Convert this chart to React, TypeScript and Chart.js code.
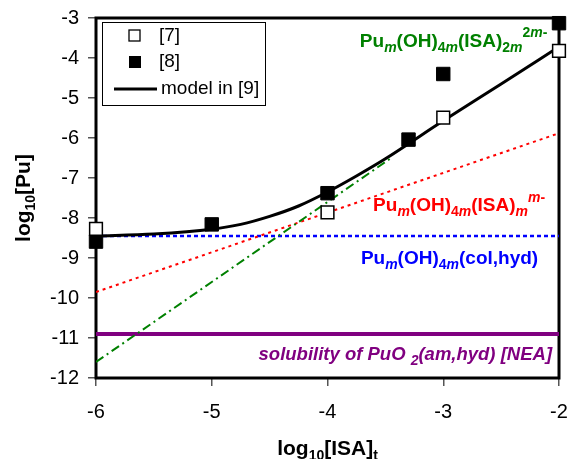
import React, { useEffect, useRef } from 'react';
import { Chart, registerables } from 'chart.js';
Chart.register(...registerables);

const FONT = '"Liberation Sans", Arial, Helvetica, sans-serif';

// ---- data ----
const ref7X = [-6, -4, -3, -2];
const ref7Y = [-8.27, -7.86, -5.49, -3.82];
const ref8X = [-6, -5, -4, -3.3, -3, -2];
const ref8Y = [-8.59, -8.16, -7.38, -6.04, -4.4, -3.13];
const modelX = [-6, -5.5, -5, -4.75, -4.5, -4.25, -4, -3.75, -3.5, -3, -2.5, -2];
const modelY = [-8.45, -8.4, -8.28, -8.16, -7.96, -7.7, -7.35, -6.95, -6.52, -5.57, -4.65, -3.72];
const isa2X = [-6, -3.45];
const isa2Y = [-11.6, -6.5];
const isa1X = [-6, -2];
const isa1Y = [-9.85, -5.88];
const colX = [-6, -2];
const colY = [-8.45, -8.45];
const neaX = [-6, -2];
const neaY = [-10.9, -10.9];
const xMin = -6, xMax = -2, yMin = -12, yMax = -3;
const legendLabels = ['[7]', '[8]', 'model in [9]'];

const pts = (xs: number[], ys: number[]) => xs.map((x, i) => ({ x, y: ys[i] }));

type Part = { t: string; k?: 'sub' | 'sup'; it?: boolean };

function drawRich(
  ctx: CanvasRenderingContext2D, parts: Part[], x: number, y: number,
  align: 'left' | 'right' | 'center', color: string, big: number, small: number,
  bold: boolean, italicAll: boolean
) {
  const fontFor = (p: Part) => {
    const size = p.k ? small : big;
    const it = italicAll || p.it ? 'italic ' : '';
    return `${it}${bold ? 'bold ' : ''}${size}px ${FONT}`;
  };
  let total = 0;
  const widths = parts.map((p) => { ctx.font = fontFor(p); const w = ctx.measureText(p.t).width; total += w; return w; });
  let cx = align === 'left' ? x : align === 'right' ? x - total : x - total / 2;
  const base = y + big * 0.36;
  ctx.fillStyle = color;
  ctx.textBaseline = 'alphabetic';
  ctx.textAlign = 'left';
  parts.forEach((p, i) => {
    ctx.font = fontFor(p);
    let dy = 0;
    if (p.k === 'sub') dy = big * 0.26;
    if (p.k === 'sup') dy = -big * 0.5;
    ctx.fillText(p.t, cx, base + dy);
    cx += widths[i];
  });
}

const labelsPlugin = {
  id: 'labelsPlugin',
  beforeDatasetsDraw(chart: any) {
    const { ctx, chartArea: a } = chart;
    ctx.save();
    ctx.strokeStyle = '#000';
    ctx.lineWidth = 3;
    ctx.strokeRect(a.left, a.top, a.right - a.left, a.bottom - a.top);
    ctx.restore();
  },
  afterDraw(chart: any) {
    const { ctx, chartArea: a, scales } = chart;
    const xs = scales.x, ys = scales.y;
    ctx.save();
    // annotations
    drawRich(ctx, [
      { t: 'Pu' }, { t: 'm', k: 'sub', it: true }, { t: '(OH)' }, { t: '4' , k: 'sub'}, { t: 'm', k: 'sub', it: true },
      { t: '(ISA)' }, { t: '2', k: 'sub' }, { t: 'm', k: 'sub', it: true },
      { t: '2', k: 'sup' }, { t: 'm', k: 'sup', it: true }, { t: '-', k: 'sup' },
    ], xs.getPixelForValue(-2.1), ys.getPixelForValue(-3.55), 'right', '#008000', 19, 14, true, false);
    drawRich(ctx, [
      { t: 'Pu' }, { t: 'm', k: 'sub', it: true }, { t: '(OH)' }, { t: '4', k: 'sub' }, { t: 'm', k: 'sub', it: true },
      { t: '(ISA)' }, { t: 'm', k: 'sub', it: true },
      { t: 'm', k: 'sup', it: true }, { t: '-', k: 'sup' },
    ], xs.getPixelForValue(-2.12), ys.getPixelForValue(-7.66), 'right', '#ff0000', 19, 14, true, false);
    drawRich(ctx, [
      { t: 'Pu' }, { t: 'm', k: 'sub', it: true }, { t: '(OH)' }, { t: '4', k: 'sub' }, { t: 'm', k: 'sub', it: true },
      { t: '(col,hyd)' },
    ], xs.getPixelForValue(-2.18), ys.getPixelForValue(-8.98), 'right', '#0000ff', 19, 14, true, false);
    drawRich(ctx, [
      { t: 'solubility of PuO ' }, { t: '2', k: 'sub' }, { t: '(am,hyd) [NEA]' },
    ], xs.getPixelForValue(-2.06), ys.getPixelForValue(-11.38), 'right', '#800080', 18.5, 14, true, true);

    // axis titles
    drawRich(ctx, [{ t: 'log' }, { t: '10', k: 'sub' }, { t: '[ISA]' }, { t: 't', k: 'sub' }],
      (a.left + a.right) / 2, 447, 'center', '#000', 21, 14, true, false);
    ctx.save();
    ctx.translate(22, (a.top + a.bottom) / 2);
    ctx.rotate(-Math.PI / 2);
    drawRich(ctx, [{ t: 'log' }, { t: '10', k: 'sub' }, { t: '[Pu]' }],
      0, 0, 'center', '#000', 21, 14, true, false);
    ctx.restore();

    // legend
    const lx = a.left + 6, ly = a.top + 4;
    ctx.fillStyle = '#fff';
    ctx.fillRect(lx, ly, 163, 83);
    ctx.strokeStyle = '#000';
    ctx.lineWidth = 1;
    ctx.strokeRect(lx + 0.5, ly + 0.5, 163, 83);
    ctx.font = `19px ${FONT}`;
    ctx.textBaseline = 'middle';
    ctx.textAlign = 'left';
    // [7]
    ctx.fillStyle = '#fff';
    ctx.fillRect(lx + 27, ly + 8, 11, 11);
    ctx.lineWidth = 1.3;
    ctx.strokeRect(lx + 27, ly + 8, 11, 11);
    ctx.fillStyle = '#000';
    ctx.fillText(legendLabels[0], lx + 57, ly + 14);
    // [8]
    ctx.fillRect(lx + 27, ly + 34, 12, 12);
    ctx.fillText(legendLabels[1], lx + 57, ly + 40);
    // model
    ctx.lineWidth = 3;
    ctx.beginPath();
    ctx.moveTo(lx + 12, ly + 67);
    ctx.lineTo(lx + 55, ly + 67);
    ctx.stroke();
    ctx.fillText(legendLabels[2], lx + 59, ly + 67);
    ctx.restore();
  },
};

export default function App() {
  const canvasRef = useRef<HTMLCanvasElement>(null);
  useEffect(() => {
    const chart = new Chart(canvasRef.current as HTMLCanvasElement, {
      type: 'scatter',
      data: {
        datasets: [
          {
            label: '[7]', data: pts(ref7X, ref7Y), pointStyle: 'rect', pointRadius: 9, pointHoverRadius: 9,
            backgroundColor: '#fff', borderColor: '#000', borderWidth: 1.5, showLine: false, clip: false,
          } as any,
          {
            label: '[8]', data: pts(ref8X, ref8Y), pointStyle: 'rect', pointRadius: 9.5, pointHoverRadius: 9.5,
            backgroundColor: '#000', borderColor: '#000', borderWidth: 1, showLine: false, clip: false,
          },
          {
            label: 'model', data: pts(modelX, modelY), showLine: true, borderColor: '#000', borderWidth: 3,
            pointRadius: 0, cubicInterpolationMode: 'monotone', fill: false,
          },
          {
            label: 'isa2', data: pts(isa2X, isa2Y), showLine: true, borderColor: '#008000', borderWidth: 2,
            borderDash: [9, 4, 2, 4], pointRadius: 0,
          },
          {
            label: 'isa1', data: pts(isa1X, isa1Y), showLine: true, borderColor: '#ff0000', borderWidth: 2,
            borderDash: [3, 4], pointRadius: 0,
          },
          {
            label: 'col', data: pts(colX, colY), showLine: true, borderColor: '#0000ff', borderWidth: 2.5,
            borderDash: [4, 3], pointRadius: 0,
          },
          {
            label: 'nea', data: pts(neaX, neaY), showLine: true, borderColor: '#800080', borderWidth: 4,
            pointRadius: 0,
          },
        ],
      },
      options: {
        animation: false,
        responsive: false,
        events: [],
        layout: { padding: { left: 0, top: 18, right: 13, bottom: 0 } },
        plugins: { legend: { display: false }, tooltip: { enabled: false } },
        scales: {
          x: {
            type: 'linear', min: xMin, max: xMax,
            ticks: { stepSize: 1, color: '#000', font: { family: FONT, size: 20 }, padding: 14 },
            grid: { drawOnChartArea: false, drawTicks: true, tickLength: 8, color: '#555', lineWidth: 1.5 },
            border: { display: false },
            afterFit: (s: any) => { s.height = 81; s.paddingLeft = 0; s.paddingRight = 0; },
          },
          y: {
            type: 'linear', min: yMin, max: yMax,
            ticks: { stepSize: 1, color: '#000', font: { family: FONT, size: 20 }, padding: 9 },
            grid: { drawOnChartArea: false, drawTicks: true, tickLength: 8, color: '#555', lineWidth: 1.5 },
            border: { display: false },
            afterFit: (s: any) => { s.width = 96; s.paddingTop = 0; s.paddingBottom = 0; },
          },
        },
      },
      plugins: [labelsPlugin],
    });
    return () => chart.destroy();
  }, []);
  return (
    <div style={{ position: 'fixed', left: 0, top: 0, width: 572, height: 459, background: '#fff' }}>
      <canvas ref={canvasRef} width={572} height={459} style={{ display: 'block' }} />
    </div>
  );
}
